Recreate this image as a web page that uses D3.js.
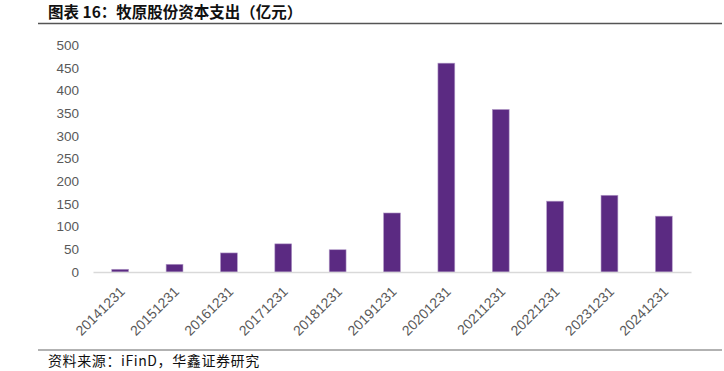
<!DOCTYPE html>
<html>
<head>
<meta charset="utf-8">
<script src="https://cdn.jsdelivr.net/npm/d3@7"></script>
<style>
  body { margin: 0; background: #fff; }
  svg { display: block; font-family: "Open Sans", "Noto Sans", sans-serif; }
  .title { font-family: "Noto Sans CJK SC", sans-serif; font-weight: bold; font-size: 15.5px; fill: #111; }
  .note { font-family: "Noto Sans CJK SC", sans-serif; font-size: 14px; letter-spacing: 0.6px; fill: #111; }
  .tick text { fill: #595959; font-size: 13.5px; }
  .xax .tick text { font-size: 14px; }
</style>
</head>
<body>
<div id="chart"></div>
<script>
// data
const years  = ['20141231', '20151231', '20161231', '20171231', '20181231', '20191231',
                '20201231', '20211231', '20221231', '20231231', '20241231']
const capex  = [6, 17, 42, 62, 49, 130, 460, 358, 156, 169, 123]
const yTicks = [0, 50, 100, 150, 200, 250, 300, 350, 400, 450, 500]

const W = 724, H = 371,
      m = { l: 93, r: 33, t: 45, b: 99 }   // plot box: 93..691, 45..272

let svg = d3.select('#chart').append('svg')
  .attr('width', W)
  .attr('height', H)

// title + rule
svg.append('text')
  .attr('class', 'title')
  .attr('x', 48)
  .attr('y', 18)
  .text('图表 16：牧原股份资本支出（亿元）')
svg.append('line')
  .attr('x1', 38).attr('x2', 722)
  .attr('y1', 23.5).attr('y2', 23.5)
  .attr('stroke', '#555')
  .attr('stroke-width', 1.5)

let x = d3.scaleBand()
      .domain(years)
      .range([m.l, W - m.r])
      .paddingInner(0.69)
      .paddingOuter(0.345),
    y = d3.scaleLinear()
      .domain([0, 500])
      .range([H - m.b, m.t])

// y axis labels only
let ya = svg.append('g')
  .attr('transform', 'translate(' + (m.l - 10) + ',0)')
  .call(d3.axisLeft(y).tickValues(yTicks).tickSize(0).tickPadding(4))
ya.select('.domain').remove()

// bars
svg.append('g').selectAll('rect')
  .data(capex)
  .join('rect')
    .attr('x', (d, i) => x(years[i]))
    .attr('y', d => y(d))
    .attr('width', x.bandwidth())
    .attr('height', d => y(0) - y(d))
    .attr('fill', '#5b2a82')
    .attr('stroke', '#b39bc9')
    .attr('stroke-width', 0.6)

// x axis
let xa = svg.append('g')
  .attr('class', 'xax')
  .attr('transform', 'translate(0,' + y(0) + ')')
  .call(d3.axisBottom(x).tickSize(0))
xa.select('.domain')
  .attr('stroke', '#d9d9d9')
  .attr('stroke-width', 1.5)
xa.selectAll('.tick text')
  .attr('text-anchor', 'end')
  .attr('x', 0)
  .attr('y', 0)
  .attr('dy', '0.35em')
  .attr('transform', 'translate(2,17) rotate(-45)')

// source line
svg.append('line')
  .attr('x1', 38).attr('x2', 722)
  .attr('y1', 350).attr('y2', 350)
  .attr('stroke', '#999')
  .attr('stroke-width', 1.5)
svg.append('text')
  .attr('class', 'note')
  .attr('x', 48)
  .attr('y', 366)
  .text('资料来源：iFinD，华鑫证券研究')
</script>
</body>
</html>
